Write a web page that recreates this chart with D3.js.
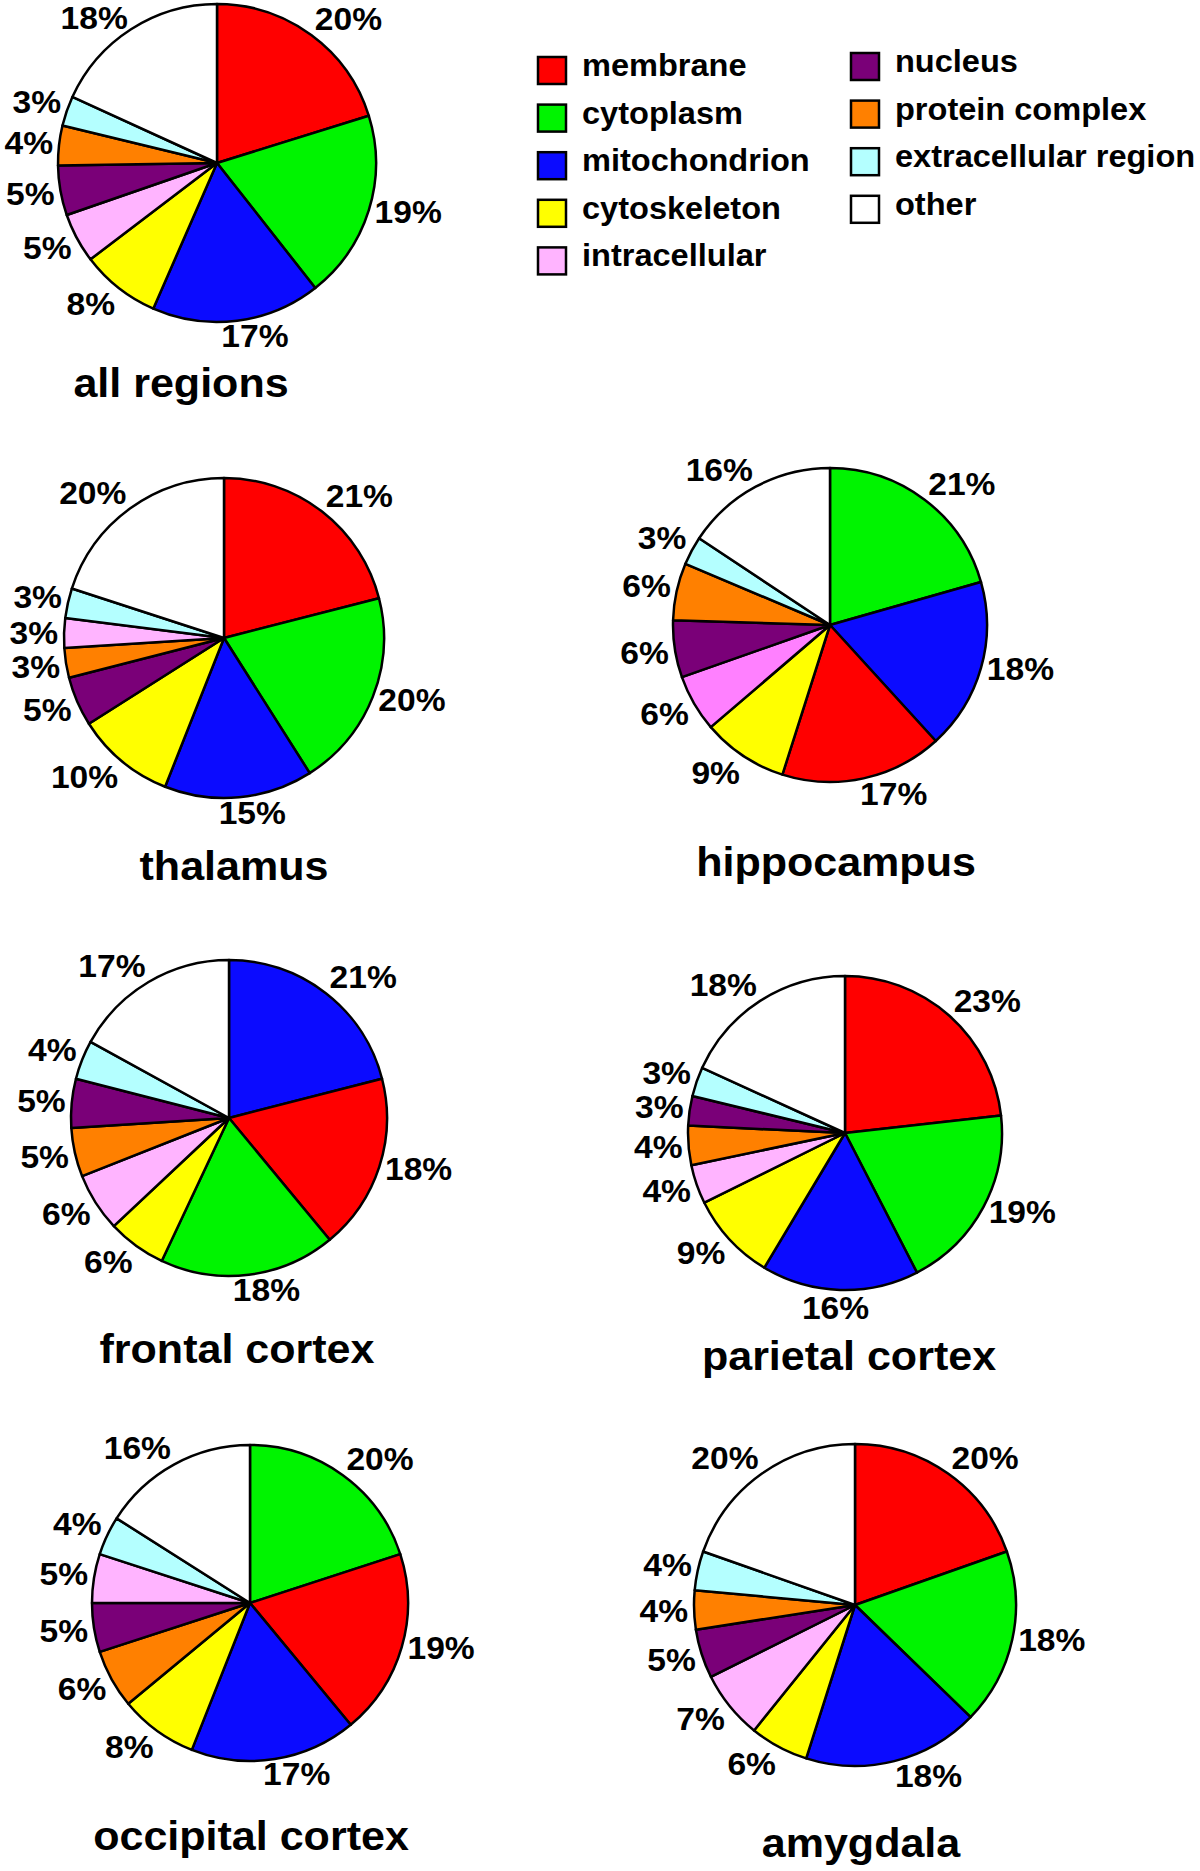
<!DOCTYPE html>
<html>
<head>
<meta charset="utf-8">
<script src="https://cdn.jsdelivr.net/npm/d3@7"></script>
<style>
  body { margin: 0; background: #fff; }
  text { font-family: "Liberation Sans", Arial, Helvetica, sans-serif; font-weight: bold; fill: #000; }
</style>
</head>
<body>
<svg class="chart"></svg>
<script>
// categories in legend order
var categories = ["membrane", "cytoplasm", "mitochondrion", "cytoskeleton", "intracellular",
                  "nucleus", "protein complex", "extracellular region", "other"];
var colours = ["#ff0000", "#00f400", "#0b0bff", "#ffff00", "#ffb4ff",
               "#7a0078", "#ff8000", "#b4ffff", "#ffffff"];

// percentages, in category order
var allRegions   = [20, 19, 17, 8, 5, 5, 4, 3, 18];
var thalamus     = [21, 20, 15, 10, 3, 5, 3, 3, 20];
var hippocampus  = [17, 21, 18, 9, 6, 6, 6, 3, 16];
var frontal      = [18, 18, 21, 6, 6, 5, 5, 4, 17];
var parietal     = [23, 19, 16, 9, 4, 3, 4, 3, 18];
var occipital    = [19, 20, 17, 8, 5, 5, 6, 4, 16];
var amygdala     = [20, 18, 18, 6, 7, 5, 4, 4, 20];

// clockwise slice order from 12 o'clock (category indices)
var orderAll       = [0, 1, 2, 3, 4, 5, 6, 7, 8];
var orderThalamus  = [0, 1, 2, 3, 5, 6, 4, 7, 8];
var orderHippo     = [1, 2, 0, 3, 4, 5, 6, 7, 8];
var orderFrontal   = [2, 0, 1, 3, 4, 6, 5, 7, 8];
var orderParietal  = [0, 1, 2, 3, 4, 6, 5, 7, 8];
var orderOccipital = [1, 0, 2, 3, 6, 5, 4, 7, 8];
var orderAmygdala  = [0, 1, 2, 3, 4, 5, 6, 7, 8];

// layout of the panels
var panels = [
  { name: "all regions",      values: allRegions,  order: orderAll,       cx: 217, cy: 163,  r: 159, tx: 181, ty: 397 },
  { name: "thalamus",         values: thalamus,    order: orderThalamus,  cx: 224, cy: 638,  r: 160, tx: 234, ty: 880 },
  { name: "hippocampus",      values: hippocampus, order: orderHippo,     cx: 830, cy: 625,  r: 157, tx: 836, ty: 876, pink: "#ff80ff" },
  { name: "frontal cortex",   values: frontal,     order: orderFrontal,   cx: 229, cy: 1118, r: 158, tx: 237, ty: 1363 },
  { name: "parietal cortex",  values: parietal,    order: orderParietal,  cx: 845, cy: 1133, r: 157, tx: 849, ty: 1370 },
  { name: "occipital cortex", values: occipital,   order: orderOccipital, cx: 250, cy: 1603, r: 158, tx: 251, ty: 1850 },
  { name: "amygdala",         values: amygdala,    order: orderAmygdala,  cx: 855, cy: 1605, r: 161, tx: 861, ty: 1857 }
];

var width = 1200, height = 1871;
var stretch = 1.05;      // the type in the figure is a little wide
var labelSize = 32, titleSize = 41, legendSize = 31;

var chart = d3.select(".chart")
    .attr("width", width)
    .attr("height", height);

chart.append("rect").attr("width", width).attr("height", height).attr("fill", "#fff");

function clamp(v) { return Math.max(-1, Math.min(1, v)); }

panels.forEach(function (p) {
    var pie = d3.pie()
        .sort(null)
        .value(function (i) { return p.values[i]; });
    var arcs = pie(p.order);
    var arc = d3.arc().innerRadius(0).outerRadius(p.r);

    var g = chart.append("g")
        .attr("transform", "translate(" + p.cx + "," + p.cy + ")");

    g.selectAll("path.slice").data(arcs)
      .enter().append("path")
        .attr("class", "slice")
        .attr("d", arc)
        .attr("fill", function (d) {
            if (d.data === 4 && p.pink) return p.pink;
            return colours[d.data];
        })
        .attr("stroke", "#000")
        .attr("stroke-width", 2.5)
        .attr("stroke-linejoin", "round");

    // percentage labels, pushed outside the rim
    var capH = labelSize * 0.716;
    var ascent = labelSize * 0.92;
    g.selectAll("text.pct").data(arcs)
      .enter().append("text")
        .attr("class", "pct")
        .attr("font-size", labelSize)
        .attr("text-anchor", "middle")
        .text(function (d) { return p.values[d.data] + "%"; })
        .each(function (d) {
            var w = this.getComputedTextLength() * stretch;
            var a = (d.startAngle + d.endAngle) / 2;
            var s = Math.sin(a), c = Math.cos(a);
            var pr = p.r + 6;
            var x = pr * s + w / 2 * clamp(4 * s);
            var k = c > 0 ? clamp(2 * c) : clamp(1.2 * c + (s > 0 ? 0.4 : 0));
            var y = -pr * c - capH / 2 * k;
            var base = Math.max(y + capH / 2, ascent - p.cy);
            d3.select(this).attr("transform",
                "translate(" + x + "," + base + ") scale(" + stretch + ",1)");
        });

    chart.append("text")
        .attr("font-size", titleSize)
        .attr("text-anchor", "middle")
        .attr("transform", "translate(" + p.tx + "," + p.ty + ") scale(" + stretch + ",1)")
        .text(p.name);
});

// legend: two columns
var legendCols = [
    { x: 537, top: 56, items: [0, 1, 2, 3, 4] },
    { x: 850, top: 52, items: [5, 6, 7, 8] }
];
var rowStep = 47.6, sw = 30, sh = 29;

legendCols.forEach(function (col) {
    var rows = chart.append("g").selectAll("g").data(col.items)
      .enter().append("g")
        .attr("transform", function (d, i) {
            return "translate(" + col.x + "," + (col.top + i * rowStep) + ")";
        });

    rows.append("rect")
        .attr("x", 1).attr("y", 1)
        .attr("width", sw - 2).attr("height", sh - 2)
        .attr("fill", function (d) { return colours[d]; })
        .attr("stroke", "#000")
        .attr("stroke-width", 2.5);

    rows.append("text")
        .attr("font-size", legendSize)
        .attr("transform", "translate(45,20) scale(" + stretch + ",1)")
        .text(function (d) { return categories[d]; });
});
</script>
</body>
</html>
